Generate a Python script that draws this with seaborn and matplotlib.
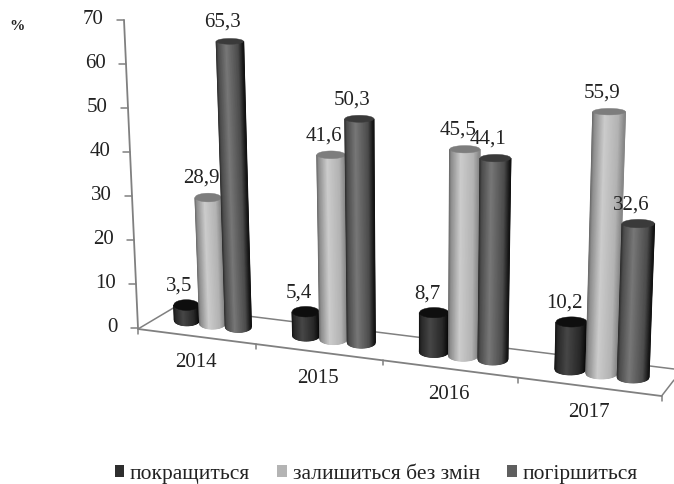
#!/usr/bin/env python3
# coding=utf-8
import matplotlib
matplotlib.use('Agg')
import matplotlib.pyplot as plt
from matplotlib.patches import Patch
import numpy as np
import pandas as pd
import seaborn as sns

years = ['2014', '2015', '2016', '2017']
series = ['покращиться', 'залишиться без змін', 'погіршиться']
better = [3.5, 5.4, 8.7, 10.2]
same = [28.9, 41.6, 45.5, 55.9]
worse = [65.3, 50.3, 44.1, 32.6]
yticks = [0, 10, 20, 30, 40, 50, 60, 70]

swatch = ['#2e2e2e', '#b4b4b4', '#5f5f5f']
caps = ['#0e0e0e', '#7d7d7d', '#3a3a3a']
# shading across the cylinder, left edge to right edge
shade_pos = [-1, -0.85, -0.25, 0.6, 1]
shades = [[0.08, 0.16, 0.28, 0.16, 0.03],
          [0.42, 0.56, 0.80, 0.70, 0.52],
          [0.18, 0.30, 0.47, 0.30, 0.06]]

sns.set_theme(style='white')
plt.rcParams['font.family'] = ['Liberation Serif', 'DejaVu Serif']
FONT = 15
TEXT = '#222222'
LINE = '#808080'


def front_x(x):
    # x is the category position, edges of the floor are at -0.5 and 3.5
    t = x + 0.5
    return 138 + 113.7 * t + 4.3 * t ** 2


def front_y(px):
    return 329 + 0.128 * (px - 138)


def project(x, v):
    # category position + value to pixel on the slanted floor
    px = front_x(x) + 16.5 - 1.2 * x
    py = front_y(px) - 15
    scale = 4.36 + 0.05 * x + 0.019 * x ** 2
    return px + (px - 415) * 0.00073 * v, py - scale * v


df = pd.DataFrame({'year': np.repeat(years, 3),
                   'group': series * 4,
                   'value': np.ravel(np.column_stack([better, same, worse]))})

fig = plt.figure(figsize=(6.74, 4.84), dpi=100)
calc = fig.add_axes([0, 0, 1, 1])
sns.barplot(data=df, x='year', y='value', hue='group', hue_order=series,
            order=years, width=0.66, ax=calc, legend=False)
calc.set_visible(False)

ax = fig.add_axes([0, 0, 1, 1])
ax.set_xlim(0, 674)
ax.set_ylim(484, 0)
ax.axis('off')

# floor
edges = np.arange(-0.5, 4, 1)
ex = front_x(edges)
ey = front_y(ex)
ax.plot(ex, ey, color=LINE, lw=1.3, zorder=1)
ax.plot([ex[0], 175, 674], [ey[0], 307, 369], color=LINE, lw=1.1, zorder=1)
ax.plot([ex[-1], 674], [ey[-1], 380], color=LINE, lw=1.1, zorder=1)
for px, py in zip(ex, ey):
    ax.plot([px, px], [py, py + 5], color=LINE, lw=1.1, zorder=1)
for year, x in zip(years, range(4)):
    px = front_x(x)
    ax.text(px, front_y(px) + 26, year, ha='center', va='center',
            fontsize=FONT, color=TEXT)

# value axis
for v in yticks:
    px = 138 - 0.2 * v
    py = 328 - 4.4 * v
    ax.plot([px - 7, px], [py, py], color=LINE, lw=1.1, zorder=1)
    ax.text(px - 20, py - 1, str(v), ha='right', va='center',
            fontsize=FONT, color=TEXT)
ax.plot([138, 138 - 0.2 * 70], [328, 328 - 4.4 * 70], color=LINE, lw=1.3, zorder=1)
ax.text(17, 27, '%', ha='center', va='center', fontsize=11,
        fontweight='bold', color=TEXT)

# cylinders, taken from the seaborn bars
u = np.linspace(-1, 1, 41)
bulge = np.sqrt(1 - u ** 2)
z = 2
labels = []
for container, shade, cap in zip(calc.containers, shades, caps):
    tone = np.interp(u, shade_pos, shade)
    for bar in container:
        left = bar.get_x()
        right = left + bar.get_width()
        mid = (left + right) / 2
        v = bar.get_height()
        bx, by = project(mid, 0)
        tx, ty = project(mid, v)
        half_b = (project(right, 0)[0] - project(left, 0)[0]) / 2
        half_t = (project(right, v)[0] - project(left, v)[0]) / 2
        rb = 5.5
        rt = 5.5 - 0.04 * v
        X = np.vstack([tx + u * half_t, bx + u * half_b])
        Y = np.vstack([ty + rt * bulge, by + rb * bulge])
        ax.pcolormesh(X, Y, np.vstack([tone, tone]), shading='gouraud',
                      cmap='gray', vmin=0, vmax=1, zorder=z)
        ax.fill(np.r_[X[0], X[0][::-1]], np.r_[ty + rt * bulge, (ty - rt * bulge)[::-1]],
                color=cap, lw=0.3, zorder=z + 0.5)
        labels.append((tx - 7, ty - 19, ('%.1f' % v).replace('.', ',')))
        z += 1

for lx, ly, s in labels:
    ax.text(lx, ly, s, ha='center', va='center', fontsize=FONT, color=TEXT, zorder=50)

handles = [Patch(facecolor=c, edgecolor='none', label=s) for c, s in zip(swatch, series)]
ax.legend(handles=handles, loc='center', bbox_to_anchor=(0.558, 0.02), ncol=3, frameon=False,
          fontsize=15.5, handlelength=0.46, handleheight=0.46, handletextpad=0.26,
          columnspacing=1.25, labelcolor=TEXT, borderpad=0, borderaxespad=0)

fig.savefig('out.png', dpi=100, facecolor='white')
plt.close('all')
